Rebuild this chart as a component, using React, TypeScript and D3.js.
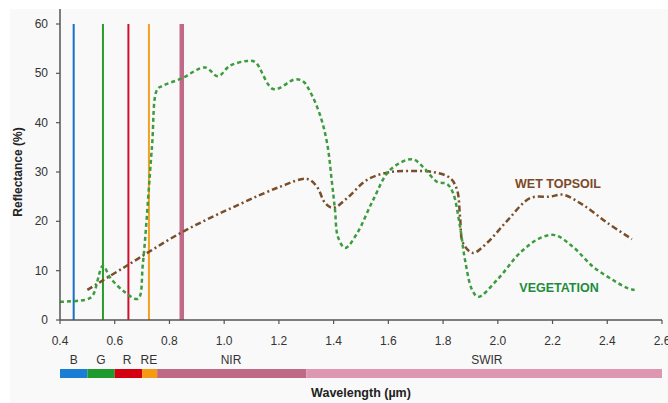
import React from 'react';
import * as d3 from 'd3';

const width = 668;
const height = 403;
const margin = { top: 9, right: 6, bottom: 83, left: 60 };

// vegetation reflectance curve (wavelength um, %)
const vegWl = [0.4, 0.5, 0.52, 0.557, 0.583, 0.638, 0.685, 0.703, 0.736, 0.755, 0.776, 0.846, 0.93, 0.977, 1.02, 1.083, 1.113, 1.18, 1.26, 1.29, 1.314, 1.35, 1.376, 1.394, 1.405, 1.416, 1.442, 1.486, 1.544, 1.606, 1.687, 1.727, 1.778, 1.814, 1.836, 1.862, 1.88, 1.906, 1.928, 1.997, 2.081, 2.154, 2.209, 2.275, 2.348, 2.421, 2.472, 2.5];
const vegVal = [3.7, 4.2, 5, 11, 8.6, 5.6, 4.3, 11.5, 35, 46.7, 47.5, 49, 51.2, 49.4, 51.5, 52.5, 52.3, 46.8, 48.8, 48.3, 46.3, 41.6, 35.9, 27.8, 22.3, 16.8, 14.6, 17.6, 24.3, 30.4, 32.6, 31, 28, 27.6, 25.8, 18.9, 12.2, 6.1, 4.7, 8.1, 13.6, 16.6, 17.2, 14.8, 10.8, 8.1, 6.5, 6.1];

// wet topsoil reflectance curve
const soilWl = [0.5, 0.638, 0.846, 1.058, 1.204, 1.303, 1.339, 1.369, 1.398, 1.449, 1.522, 1.606, 1.69, 1.763, 1.825, 1.851, 1.862, 1.873, 1.909, 1.96, 2.034, 2.118, 2.19, 2.238, 2.312, 2.4, 2.49];
const soilVal = [6.1, 10.8, 17.8, 23.5, 27, 28.6, 27, 23.7, 22.7, 24.7, 28.4, 30, 30.2, 30, 28.8, 26.4, 20.9, 15.6, 13.6, 15.6, 20.1, 24.7, 25, 25.4, 23.3, 19.7, 16.4];

// sensor band centre lines
const bandLineNames = ['B', 'G', 'R', 'RE', 'NIR'];
const bandLineWl = [0.45, 0.557, 0.65, 0.725, 0.845];
const bandLineColors = ['#1a6fc4', '#2a9a2a', '#d0102a', '#f5a020', '#c06a88'];
const bandLineWidths = [2, 2, 2, 2, 4.5];

// spectral region bar
const regionNames = ['B', 'G', 'R', 'RE', 'NIR', 'SWIR'];
const regionStart = [0.4, 0.5, 0.6, 0.7, 0.755, 1.3];
const regionEnd = [0.5, 0.6, 0.7, 0.755, 1.3, 2.6];
const regionColors = ['#1a7fd4', '#1f9a2f', '#d40012', '#f59a12', '#be6a86', '#de97b0'];
const regionLabelWl = [0.45, 0.55, 0.645, 0.725, 1.025, 1.96];

const xTicks = [0.4, 0.6, 0.8, 1.0, 1.2, 1.4, 1.6, 1.8, 2.0, 2.2, 2.4, 2.6];
const yTicks = [0, 10, 20, 30, 40, 50, 60];

const font = "'Liberation Sans', Arial, sans-serif";

export default function App() {
  const x = d3.scaleLinear().domain([0.4, 2.6]).range([margin.left, width - margin.right]);
  const y = d3.scaleLinear().domain([0, 60]).range([320, 24]);

  const line = d3.line<[number, number]>()
    .x(d => x(d[0]))
    .y(d => y(d[1]))
    .curve(d3.curveCatmullRom.alpha(0.5));

  const vegPath = line(vegWl.map((w, i) => [w, vegVal[i]]));
  const soilPath = line(soilWl.map((w, i) => [w, soilVal[i]]));

  const axisColor = '#555';
  const y0 = y(0);

  return (
    <div>
      <style>{`body{margin:0}`}</style>
      <svg width={width} height={height} style={{ display: 'block', fontFamily: font }}>
        <rect x={0} y={0} width={width} height={height} fill="#fff" />
        <rect x={10} y={9} width={width - 10} height={height - 9} fill="#f9f9f9" />

        {/* band lines */}
        {bandLineWl.map((w, i) => (
          <line key={bandLineNames[i]} x1={x(w)} x2={x(w)} y1={y(60)} y2={y0}
            stroke={bandLineColors[i]} strokeWidth={bandLineWidths[i]} />
        ))}

        {/* curves */}
        <path d={soilPath || ''} fill="none" stroke="#7a4e2a" strokeWidth={2.5} strokeDasharray="6,3,2,3" />
        <path d={vegPath || ''} fill="none" stroke="#3d9c3d" strokeWidth={2.5} strokeDasharray="4,3" />

        <text x={558} y={188} textAnchor="middle" fontSize={12.5} fontWeight="bold" fill="#7b4a28">WET TOPSOIL</text>
        <text x={559} y={292} textAnchor="middle" fontSize={12.5} fontWeight="bold" fill="#1e8c3c">VEGETATION</text>

        {/* y axis */}
        <line x1={margin.left} x2={margin.left} y1={margin.top} y2={y0} stroke={axisColor} strokeWidth={1.5} />
        {yTicks.map(t => (
          <g key={t}>
            <line x1={margin.left - 4} x2={margin.left} y1={y(t)} y2={y(t)} stroke={axisColor} strokeWidth={1.2} />
            <text x={48} y={y(t) + 4} textAnchor="end" fontSize={12} fill="#333">{t}</text>
          </g>
        ))}
        <text transform={`translate(22, ${(y(60) + y0) / 2}) rotate(-90)`} textAnchor="middle"
          fontSize={12} fontWeight="bold" fill="#222">Reflectance (%)</text>

        {/* x axis */}
        <line x1={x(0.4)} x2={x(2.6)} y1={y0} y2={y0} stroke={axisColor} strokeWidth={1.5} />
        {xTicks.map(t => (
          <g key={t}>
            <line x1={x(t)} x2={x(t)} y1={y0} y2={y0 + 4} stroke={axisColor} strokeWidth={1.2} />
            <text x={x(t)} y={y0 + 25} textAnchor="middle" fontSize={12} fill="#333">{t.toFixed(1)}</text>
          </g>
        ))}

        {/* spectral region bar */}
        {regionNames.map((n, i) => (
          <g key={n}>
            <rect x={x(regionStart[i])} y={369} width={x(regionEnd[i]) - x(regionStart[i])} height={9} fill={regionColors[i]} />
            <text x={x(regionLabelWl[i])} y={364} textAnchor="middle" fontSize={12} fill="#333">{n}</text>
          </g>
        ))}
        <text x={(x(0.4) + x(2.6)) / 2} y={397} textAnchor="middle" fontSize={12.5} fontWeight="bold" fill="#222">Wavelength (µm)</text>
      </svg>
    </div>
  );
}
